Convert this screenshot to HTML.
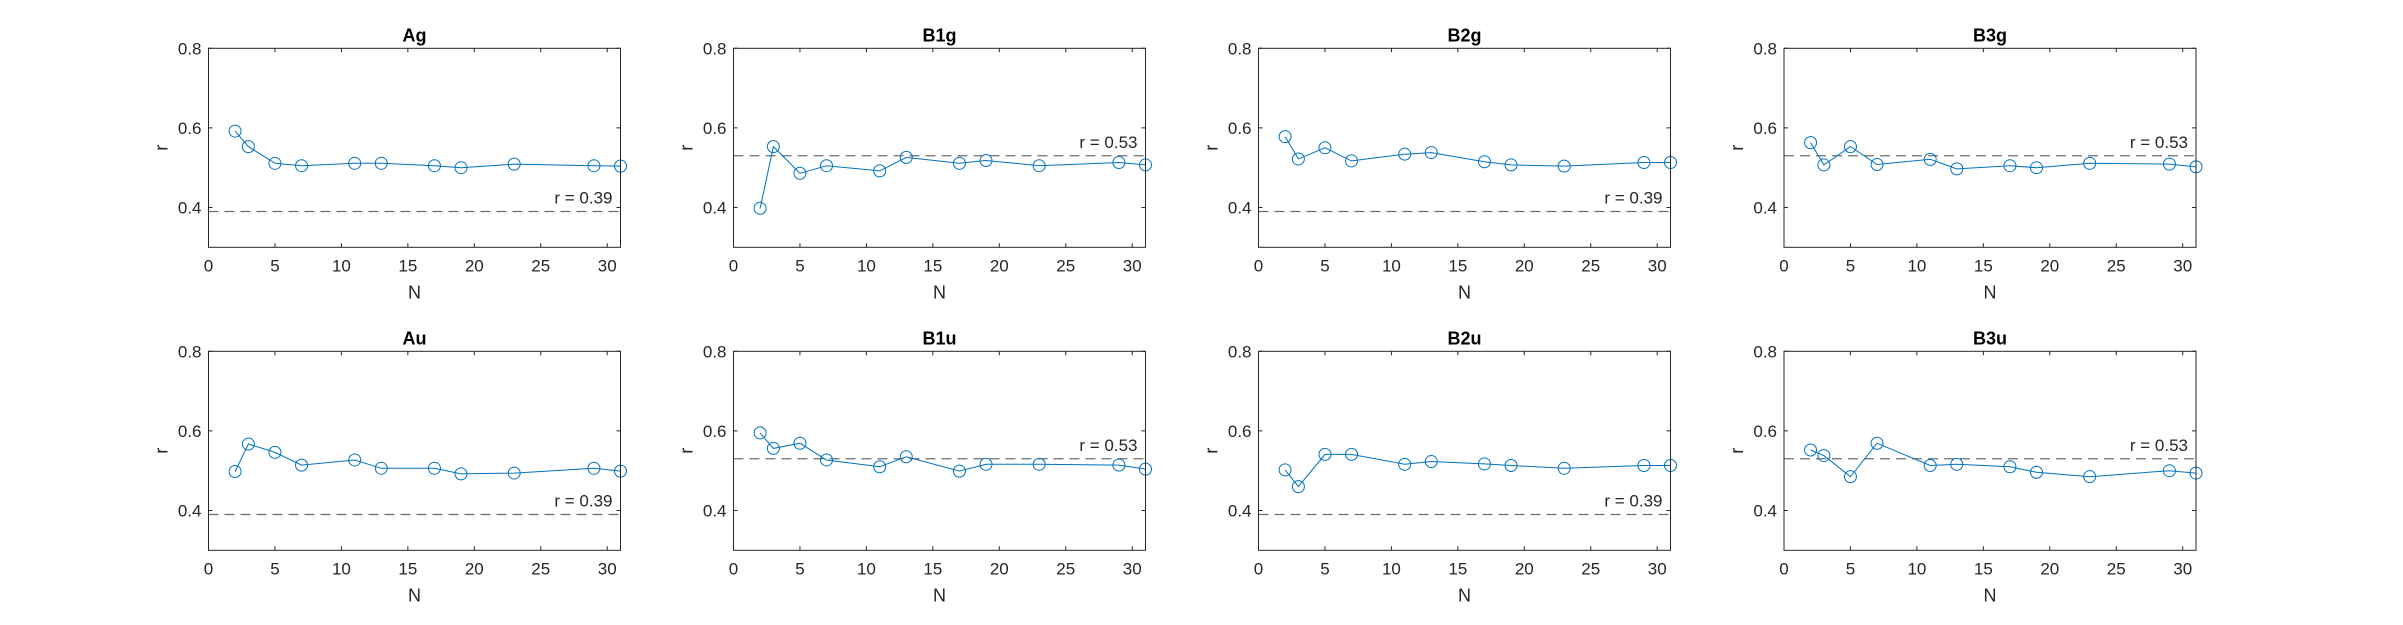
<!DOCTYPE html>
<html><head><meta charset="utf-8">
<style>
html,body{margin:0;padding:0;background:#fff;}
svg{display:block;font-family:"Liberation Sans",Arial,sans-serif;}
</style></head>
<body>
<svg id="fig" width="2403" height="625" viewBox="0 0 2403 625"></svg>
<script>
const nValues = [2,3,5,7,11,13,17,19,23,29,31];
const panelTitles = ["Ag","B1g","B2g","B3g","Au","B1u","B2u","B3u"];
const refValues = [0.39,0.53,0.39,0.53,0.39,0.53,0.39,0.53];
const seriesAg  = [0.592,0.553,0.511,0.505,0.511,0.511,0.505,0.500,0.509,0.505,0.504];
const seriesB1g = [0.398,0.553,0.486,0.505,0.492,0.526,0.511,0.518,0.505,0.513,0.507];
const seriesB2g = [0.578,0.522,0.550,0.517,0.534,0.538,0.515,0.507,0.504,0.513,0.513];
const seriesB3g = [0.563,0.507,0.553,0.508,0.521,0.497,0.505,0.500,0.511,0.509,0.502];
const seriesAu  = [0.498,0.567,0.546,0.514,0.527,0.506,0.506,0.492,0.494,0.506,0.499];
const seriesB1u = [0.595,0.556,0.569,0.527,0.510,0.535,0.499,0.516,0.516,0.514,0.504];
const seriesB2u = [0.502,0.460,0.541,0.541,0.516,0.523,0.517,0.513,0.506,0.513,0.513];
const seriesB3u = [0.552,0.538,0.485,0.569,0.513,0.516,0.510,0.496,0.485,0.500,0.494];
const xTicks = [0,5,10,15,20,25,30];
const yTicks = [0.4,0.6,0.8];
const yTickLabels = ["0.4","0.6","0.8"];
const allSeries = [seriesAg,seriesB1g,seriesB2g,seriesB3g,seriesAu,seriesB1u,seriesB2u,seriesB3u];

const NS="http://www.w3.org/2000/svg";
const svg=document.getElementById('fig');
function mk(tag,attrs,parent){const e=document.createElementNS(NS,tag);for(const k in attrs)e.setAttribute(k,attrs[k]);(parent||svg).appendChild(e);return e;}

const lefts=[208.5,733.5,1258.5,1784];
const tops=[48.3,351.3];
const W=412,H=199;
const XMIN=0,XMAX=31,YMIN=0.3,YMAX=0.8;

allSeries.forEach((vals,i)=>{
  const L=lefts[i%4], T=tops[Math.floor(i/4)];
  const sx=v=>L+(v-XMIN)/(XMAX-XMIN)*W;
  const sy=v=>T+H-(v-YMIN)/(YMAX-YMIN)*H;
  const g=mk('g',{});
  
  
  // ticks
  xTicks.forEach(t=>{
    const x=sx(t);
    const tk=mk('path',{d:`M${x},${T+H}v-4M${x},${T}v4`,stroke:'#262626','stroke-width':1},g);
    
    
    const lb=mk('text',{x:x,y:T+H+24,'font-size':17,fill:'#262626','text-anchor':'middle'},g);
    lb.textContent=t;
    
    
  });
  yTicks.forEach((t,k)=>{
    const y=sy(t);
    const tk=mk('path',{d:`M${L},${y}h4M${L+W},${y}h-4`,stroke:'#262626','stroke-width':1},g);
    
    
    const lb=mk('text',{x:L-7,y:y+6,'font-size':17,fill:'#262626','text-anchor':'end'},g);
    lb.textContent=yTickLabels[k];
    
    
  });
  // reference line
  const ry=sy(refValues[i]);
  const rl=mk('line',{x1:L,x2:L+W,y1:ry,y2:ry,stroke:'#6e6e6e','stroke-width':1.2,'stroke-dasharray':'10,6'},g);
  
  
  const rt=mk('text',{x:L+W-8,y:ry-8,'font-size':17,fill:'#262626','text-anchor':'end'},g);
  rt.textContent='r = '+refValues[i].toFixed(2);
  
  
  // series
  const pts=vals.map((v,k)=>sx(nValues[k]).toFixed(1)+','+sy(v).toFixed(1)).join(' ');
  const pl=mk('polyline',{points:pts,fill:'none',stroke:'#0072BD','stroke-width':1},g);
  
  
  vals.forEach((v,k)=>{
    const c=mk('circle',{cx:sx(nValues[k]),cy:sy(v),r:6,fill:'none',stroke:'#0072BD','stroke-width':1},g);
    
    
  });
  // box
  const bx=mk('rect',{x:L,y:T,width:W,height:H,fill:'none',stroke:'#262626','stroke-width':1},g);
  
  
  // title and labels
  const tt=mk('text',{x:L+W/2,y:T-7,'font-size':18,'font-weight':'bold',fill:'#000','text-anchor':'middle'},g);
  tt.textContent=panelTitles[i];
  
  
  const xl=mk('text',{x:L+W/2,y:T+H+51,'font-size':18,fill:'#262626','text-anchor':'middle'},g);
  xl.textContent='N';
  
  
  const yl=mk('text',{x:0,y:0,'font-size':18,fill:'#262626','text-anchor':'middle',transform:`translate(${L-41},${T+H/2}) rotate(-90)`},g);
  yl.textContent='r';
  
  
});
</script>
</body></html>
